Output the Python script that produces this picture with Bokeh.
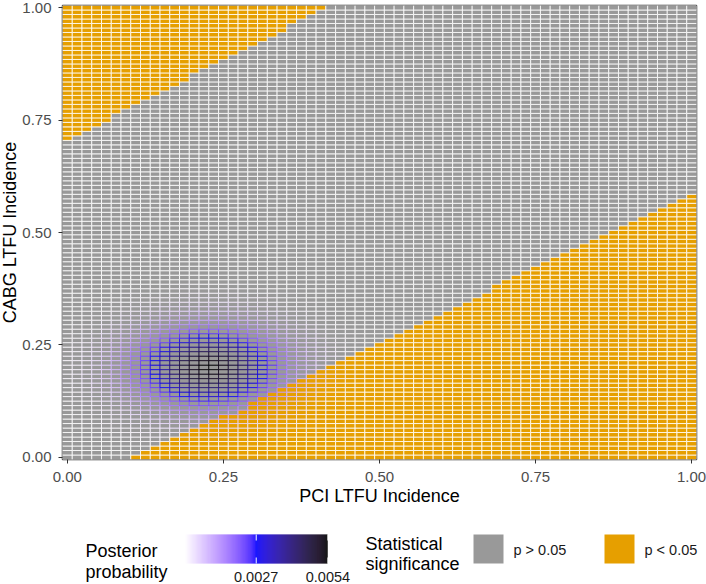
import numpy as np
from bokeh.plotting import figure
from bokeh.models import Range1d, FixedTicker, LinearColorMapper, ColumnDataSource
from bokeh.layouts import column, row
from bokeh.embed import file_html
from bokeh.resources import INLINE
from bokeh.core.properties import value

# ---------------- data ----------------
# grid of incidences (65 PCI columns, 101 CABG rows)
PCI_STEP = 1 / 64
CABG_STEP = 0.01
PCI_VALUES = [i * PCI_STEP for i in range(65)]
CABG_VALUES = [j * CABG_STEP for j in range(101)]

# per PCI column: number of bottom rows with p < 0.05 (lower-right region)
LOWER_SIG_ROWS = [0, 0, 0, 0, 0, 0, 0, 1, 2, 3, 4, 5, 6, 7, 8, 9, 10, 10, 11, 13,
                  14, 15, 16, 17, 18, 19, 20, 21, 22, 23, 24, 25, 26, 27, 28, 29,
                  30, 31, 32, 33, 34, 35, 36, 37, 39, 40, 41, 42, 43, 44, 45, 46,
                  47, 48, 49, 50, 51, 52, 53, 54, 55, 56, 57, 58, 59]
# per PCI column: first row index with p < 0.05 (upper-left region); 101 = none
UPPER_SIG_START = [71, 72, 73, 74, 75, 77, 78, 79, 80, 81, 82, 83, 84, 86, 87,
                   88, 89, 90, 91, 92, 93, 94, 95, 97, 98, 99, 100] + [101] * 38

# posterior summary
PCI_MEAN, PCI_SD = 0.227, 0.078
CABG_MEAN, CABG_SD = 0.202, 0.059
POST_MID = 0.0027

X_TICKS = [0.0, 0.25, 0.5, 0.75, 1.0]
X_TICK_LABELS = ["0.00", "0.25", "0.50", "0.75", "1.00"]
Y_TICKS = [0.0, 0.25, 0.5, 0.75, 1.0]
Y_TICK_LABELS = ["0.00", "0.25", "0.50", "0.75", "1.00"]
CBAR_TICKS = [0.0027, 0.0054]
CBAR_LABELS = ["0.0027", "0.0054"]
SIG_LABELS = ["p > 0.05", "p < 0.05"]
SIG_COLORS = ["#999999", "#E69F00"]

FONT = "Liberation Sans"

# ---------------- build table ----------------
xs, ys, fills, posts = [], [], [], []
for j, yv in enumerate(CABG_VALUES):
    for i, xv in enumerate(PCI_VALUES):
        sig = (j < LOWER_SIG_ROWS[i]) or (j >= UPPER_SIG_START[i])
        xs.append(xv)
        ys.append(yv)
        fills.append(SIG_COLORS[1] if sig else SIG_COLORS[0])
        posts.append(np.exp(-0.5 * ((xv - PCI_MEAN) / PCI_SD) ** 2
                            - 0.5 * ((yv - CABG_MEAN) / CABG_SD) ** 2))
posts = np.array(posts)
posts = posts / posts.sum()
vmin, vmax = float(posts.min()), float(posts.max())

# ---------------- Lab gradient (white - blue - black) ----------------
def _to_lab(rgb):
    c = np.array(rgb, float) / 255
    lin = np.where(c <= 0.04045, c / 12.92, ((c + 0.055) / 1.055) ** 2.4)
    M = np.array([[0.4124, 0.3576, 0.1805], [0.2126, 0.7152, 0.0722], [0.0193, 0.1192, 0.9505]])
    xyz = M @ lin / np.array([0.95047, 1.0, 1.08883])
    f = np.where(xyz > 0.008856, np.cbrt(xyz), 7.787 * xyz + 16 / 116)
    return np.array([116 * f[1] - 16, 500 * (f[0] - f[1]), 200 * (f[1] - f[2])])

def _from_lab(lab):
    L, a, b = lab
    fy = (L + 16) / 116
    fx = fy + a / 500
    fz = fy - b / 200
    f = np.array([fx, fy, fz])
    xyz = np.where(f ** 3 > 0.008856, f ** 3, (f - 16 / 116) / 7.787) * np.array([0.95047, 1.0, 1.08883])
    Minv = np.array([[3.2406, -1.5372, -0.4986], [-0.9689, 1.8758, 0.0415], [0.0557, -0.2040, 1.0570]])
    lin = np.clip(Minv @ xyz, 0, 1)
    c = np.where(lin <= 0.0031308, 12.92 * lin, 1.055 * lin ** (1 / 2.4) - 0.055)
    r, g, bb = (np.clip(c, 0, 1) * 255).round().astype(int)
    return "#%02x%02x%02x" % (r, g, bb)

LAB_W, LAB_B, LAB_K = _to_lab((255, 255, 255)), _to_lab((0, 0, 255)), _to_lab((0, 0, 0))
palette = []
for k in range(256):
    t = k / 255
    if t <= 0.5:
        s = t / 0.5
        palette.append(_from_lab(LAB_W + (LAB_B - LAB_W) * s))
    else:
        s = (t - 0.5) / 0.5
        palette.append(_from_lab(LAB_B + (LAB_K - LAB_B) * s))
span = max(POST_MID - vmin, vmax - POST_MID)
low, high = POST_MID - span, POST_MID + span
mapper = LinearColorMapper(palette=palette, low=low, high=high)

src = ColumnDataSource(dict(x=xs, y=ys, fill=fills, post=posts))

MAIN_H = 515
Y0, Y1 = -CABG_STEP / 2, 1 + CABG_STEP / 2

def blank(w, h, xr, yr):
    f = figure(width=w, height=h, x_range=Range1d(*xr), y_range=Range1d(*yr),
               output_backend="svg", toolbar_location=None,
               x_axis_location=None, y_axis_location=None,
               min_border_left=0, min_border_right=0, min_border_top=0, min_border_bottom=0)
    f.grid.visible = False
    f.outline_line_color = None
    f.background_fill_color = "white"
    f.border_fill_color = "white"
    return f

# ---------------- y-axis title strip (frame aligned with the main plot) ----------------
TW = 19
tfig = blank(TW, MAIN_H, (0, TW), (Y0, Y1))
tfig.text(x=[9.5], y=[0.5], text=["CABG LTFU Incidence"], angle=np.pi / 2,
          text_font=value(FONT), text_font_size="18px", text_color="black",
          text_align="center", text_baseline="middle")

# ---------------- main plot ----------------
p = figure(width=706 - TW, height=MAIN_H,
           x_range=Range1d(-PCI_STEP / 2, 1 + PCI_STEP / 2),
           y_range=Range1d(Y0, Y1),
           output_backend="svg", toolbar_location=None,
           min_border_left=61 - TW, min_border_right=10, min_border_top=5, min_border_bottom=56)
p.rect(x="x", y="y", width=PCI_STEP, height=CABG_STEP, source=src,
       fill_color="fill", line_color={"field": "post", "transform": mapper}, line_width=0.8)

p.grid.visible = False
p.outline_line_color = "#333333"
p.outline_line_width = 1.5
p.background_fill_color = "white"
p.border_fill_color = "white"

for ax, ticks, labels in ((p.xaxis, X_TICKS, X_TICK_LABELS), (p.yaxis, Y_TICKS, Y_TICK_LABELS)):
    ax.ticker = FixedTicker(ticks=ticks)
    ax.major_label_overrides = {t: l for t, l in zip(ticks, labels)}
    ax.axis_line_color = None
    ax.major_tick_line_color = "#333333"
    ax.major_tick_out = 4
    ax.major_tick_in = 0
    ax.minor_tick_line_color = None
    ax.major_label_text_font = FONT
    ax.major_label_text_font_size = "15px"
    ax.major_label_text_color = "#4D4D4D"
    ax.axis_label_text_font = FONT
    ax.axis_label_text_font_size = "18px"
    ax.axis_label_text_font_style = "normal"
    ax.axis_label_text_color = "black"

p.xaxis.axis_label = "PCI LTFU Incidence"
p.xaxis.major_label_standoff = 8
p.xaxis.axis_label_standoff = 1
p.yaxis.major_label_standoff = 7

# ---------------- legend (page pixel coordinates) ----------------
LEG_H = 584 - MAIN_H
leg = blank(706, LEG_H, (0, 706), (584, MAIN_H))

def tx(x, y, t, size, color="black", align="left"):
    leg.text(x=x, y=y, text=t, text_font=value(FONT), text_font_size=size,
             text_color=color, text_baseline="middle", text_align=align)

tx([85, 85], [550, 571], ["Posterior", "probability"], "18px")
CB_X0, CB_X1, CB_Y0, CB_Y1 = 184, 327, 534, 563
nb = 143
vals = np.linspace(vmin, vmax, nb)
bx = [CB_X0 + (k + 0.5) * (CB_X1 - CB_X0) / nb for k in range(nb)]
leg.rect(x="x", y=(CB_Y0 + CB_Y1) / 2, width=(CB_X1 - CB_X0) / nb + 0.4, height=CB_Y1 - CB_Y0,
         fill_color={"field": "v", "transform": mapper}, line_color=None,
         source=ColumnDataSource(dict(x=bx, v=vals)))
tick_x = [CB_X0 + (t - vmin) / (vmax - vmin) * (CB_X1 - CB_X0) for t in CBAR_TICKS]
leg.segment(x0=tick_x, y0=[CB_Y0] * 2, x1=tick_x, y1=[CB_Y0 + 6] * 2, line_color="white", line_width=1)
leg.segment(x0=tick_x, y0=[CB_Y1 - 6] * 2, x1=tick_x, y1=[CB_Y1] * 2, line_color="white", line_width=1)
tx(tick_x, [576, 576], CBAR_LABELS, "14.5px", "#1a1a1a", "center")

tx([365, 365], [543, 563], ["Statistical", "significance"], "18px")
KEY_X = [473, 604]
leg.rect(x=[k + 15 for k in KEY_X], y=[548.5, 548.5], width=30, height=29,
         fill_color=SIG_COLORS, line_color=None)
tx([k + 40 for k in KEY_X], [549, 549], SIG_LABELS, "14.5px", "#1a1a1a")

layout = column(row(tfig, p, spacing=0), leg, spacing=0)
layout.styles = {"position": "absolute", "left": "0px", "top": "0px"}

open("out.html", "w").write(file_html(layout, INLINE))
